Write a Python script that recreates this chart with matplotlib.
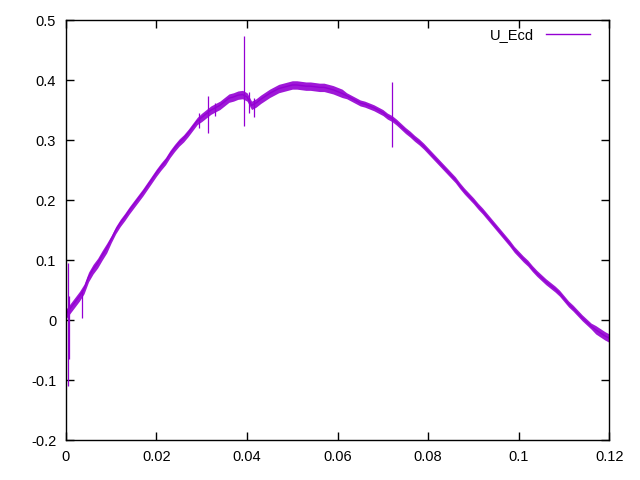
import matplotlib.pyplot as plt
import numpy as np

plt.rcParams['font.family'] = ['Liberation Sans', 'DejaVu Sans']

# centre line of the noisy trace, one value every 0.001
t = np.round(np.arange(0, 0.1201, 0.001), 4)
u_mid = [0.010, 0.020, 0.030, 0.040, 0.052, 0.072, 0.085, 0.095, 0.108, 0.120,
         0.135, 0.150, 0.162, 0.172, 0.183, 0.193, 0.203, 0.213, 0.224, 0.235,
         0.246, 0.256, 0.265, 0.277, 0.287, 0.296, 0.303, 0.312, 0.322, 0.332,
         0.338, 0.344, 0.350, 0.354, 0.358, 0.364, 0.370, 0.372, 0.375, 0.376,
         0.372, 0.358, 0.362, 0.368, 0.373, 0.378, 0.382, 0.386, 0.388, 0.390,
         0.392, 0.392, 0.391, 0.390, 0.390, 0.389, 0.388, 0.388, 0.386, 0.384,
         0.381, 0.378, 0.374, 0.370, 0.366, 0.362, 0.360, 0.357, 0.354, 0.350,
         0.346, 0.340, 0.336, 0.330, 0.323, 0.316, 0.310, 0.303, 0.297, 0.290,
         0.282, 0.274, 0.266, 0.258, 0.250, 0.242, 0.234, 0.224, 0.215, 0.207,
         0.199, 0.190, 0.182, 0.173, 0.164, 0.155, 0.146, 0.137, 0.128, 0.118,
         0.110, 0.102, 0.095, 0.086, 0.078, 0.071, 0.064, 0.058, 0.052, 0.045,
         0.036, 0.027, 0.020, 0.012, 0.004, -0.003, -0.010, -0.016, -0.021, -0.026,
         -0.030]
# half width of the noise band around the centre line
u_half = [0.008] * 10 + [0.006] * 20 + [0.007] * 32 + [0.005] * 55 + [0.007] * 4

# single-sample spikes: position, low end, high end
spike_t = [0.0004, 0.0007, 0.0035, 0.0295, 0.0313, 0.0329, 0.0394, 0.0405, 0.0415, 0.0720]
spike_lo = [-0.110, -0.065, 0.003, 0.320, 0.312, 0.340, 0.323, 0.345, 0.338, 0.288]
spike_hi = [0.095, 0.040, 0.050, 0.345, 0.373, 0.362, 0.473, 0.380, 0.370, 0.397]

col = '#9400d3'
fig = plt.figure(figsize=(6.4, 4.8), dpi=100)
ax = fig.add_axes([0.103, 0.083, 0.849, 0.875])

mid = np.array(u_mid)
half = np.array(u_half)
ax.fill_between(t, mid - half, mid + half, color=col, lw=0, alpha=0.9)
ax.plot(t, mid, color=col, lw=1, label='U_Ecd')
ax.vlines(spike_t, spike_lo, spike_hi, color=col, lw=0.9)

ax.set_xlim(0, 0.12)
ax.set_ylim(-0.2, 0.5)
ax.set_xticks([0, 0.02, 0.04, 0.06, 0.08, 0.1, 0.12])
ax.set_yticks([-0.2, -0.1, 0, 0.1, 0.2, 0.3, 0.4, 0.5])
ax.xaxis.set_major_formatter(plt.FormatStrFormatter('%g'))
ax.yaxis.set_major_formatter(plt.FormatStrFormatter('%g'))
ax.tick_params(direction='in', top=True, right=True, length=6, width=1,
               labelsize=10.5, colors='black', pad=7)
for s in ax.spines.values():
    s.set_linewidth(1)

ax.legend(loc='upper right', frameon=False, markerfirst=False, handlelength=3.0,
          fontsize=10.5, borderaxespad=0.3, bbox_to_anchor=(0.983, 1.006))

fig.savefig('out.png')
